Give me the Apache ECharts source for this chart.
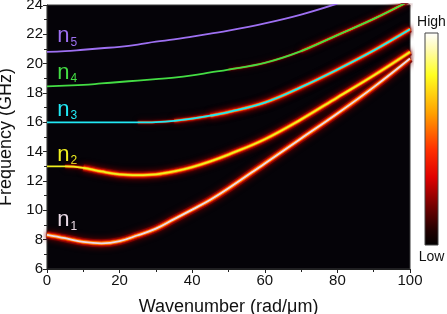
<!DOCTYPE html>
<html><head><meta charset="utf-8">
<script src="https://cdn.jsdelivr.net/npm/echarts@6/dist/echarts.min.js"></script>
<style>html,body{margin:0;padding:0;background:#fff}#c{width:447px;height:314px}</style>
</head><body><div id="c"></div>
<script>
var wavenumber = [0,5,10,15,20,25,30,35,40,45,50,60,70,80,90,100];
var n1 = [8.33,8.1,7.85,7.75,7.9,8.3,8.75,9.4,10.05,10.72,11.5,13.2,14.9,16.6,18.4,20.35];
var n2 = [13.0,13.0,12.9,12.65,12.45,12.4,12.45,12.65,12.95,13.34,13.8,14.85,16.2,17.7,19.2,20.8];
var n3 = [16.0,16.0,16.0,16.0,16.0,16.0,16.02,16.1,16.25,16.45,16.7,17.35,18.4,19.6,20.9,22.35];
var n4 = [18.45,18.5,18.55,18.65,18.75,18.85,18.95,19.05,19.2,19.4,19.6,20.05,20.85,21.95,23.05,24.3];
var n5 = [20.8,20.85,20.95,21.05,21.15,21.3,21.5,21.65,21.85,22.05,22.25,22.75,23.35,24.1];
var modeNames = ['1','2','3','4','5'];
var modeColors = ['#eadae6','#f0f020','#22e8f4','#44dd44','#9e70f2'];
var labelPos = [[2.8,8.5],[2.8,12.95],[2.8,16.05],[2.8,18.55],[2.8,21.05]];

function pts(arr, from){ var r=[]; for(var i=from||0;i<arr.length;i++) r.push([wavenumber[i],arr[i]]); return r; }
function layer(data, w, color, blur, op){
  return {type:'line', data:data, smooth:0.4, showSymbol:false, silent:true, animation:false,
    lineStyle:{width:w,color:color,opacity:op==null?1:op,shadowBlur:blur||0,shadowColor:color,cap:'butt'}};
}
var series = [];
function glow(arr, from, s, op){
  var d = pts(arr, from);
  series.push(layer(d, 8*s, '#6a0000', 6, 0.9*op));
  series.push(layer(d, 5*s, '#d81000', 3, 0.95*op));
  series.push(layer(d, 3.2*s, '#ff7800', 1, op));
}
glow(n1, 0, 1.0, 1);
glow(n2, 1, 0.6, 0.5);
glow(n2, 2, 0.9, 1);
glow(n3, 5, 0.6, 0.35);
glow(n3, 7, 0.7, 0.6);
glow(n3, 9, 0.8, 1);
glow(n4, 10, 0.4, 0.4);
glow(n4, 12, 0.45, 1);
var modes = [n1,n2,n3,n4,n5];
modes.forEach(function(m,i){ series.push(layer(pts(m,0), 1.8, modeColors[i], 0, 1)); });

var chart = echarts.init(document.getElementById('c'));
var ff = 'Liberation Sans, Arial, sans-serif';
var axisFont = {fontFamily:ff, fontSize:15, color:'#111'};
function axisCommon(){
  return {axisLine:{show:true, onZero:false, lineStyle:{color:'#222', width:1.2}},
    axisTick:{show:true, length:4, lineStyle:{color:'#222'}},
    minorTick:{show:true, splitNumber:2, length:3, lineStyle:{color:'#222'}},
    splitLine:{show:false},
    nameTextStyle:{fontFamily:ff, fontSize:18, color:'#111'},
    axisLabel:Object.assign({margin:4}, axisFont)};
}
chart.setOption({
  animation:false,
  backgroundColor:'#fff',
  grid:{left:47, right:37, top:5, bottom:45, outerBoundsMode:'none', containLabel:false,
    show:true, backgroundColor:'#050308', borderColor:'#3a3a3a', borderWidth:1},
  xAxis:Object.assign(axisCommon(), {type:'value', min:0, max:100, interval:20,
    name:'Wavenumber (rad/\u03bcm)', nameLocation:'middle', nameGap:29}),
  yAxis:Object.assign(axisCommon(), {type:'value', min:6, max:24, interval:2,
    name:'Frequency (GHz)', nameLocation:'middle', nameGap:29}),
  series: series
});

var g = [];
modeNames.forEach(function(n,i){
  var p = chart.convertToPixel({gridIndex:0}, labelPos[i]);
  g.push({type:'text', x:p[0], y:p[1], style:{
    text:'{a|n}{b|'+n+'}', fill:modeColors[i], textVerticalAlign:'bottom',
    rich:{a:{fontSize:22, fontFamily:ff, fill:modeColors[i]},
          b:{fontSize:12, fontFamily:ff, fill:modeColors[i], padding:[12,0,0,1]}}}});
});
g.push({type:'rect', shape:{x:425, y:33, width:13, height:212}, style:{
  fill:new echarts.graphic.LinearGradient(0,0,0,1,[
    {offset:0,color:'#ffffff'},{offset:0.08,color:'#fffbb0'},{offset:0.2,color:'#ffff20'},
    {offset:0.38,color:'#ffa000'},{offset:0.55,color:'#ff3000'},{offset:0.68,color:'#e00000'},
    {offset:0.82,color:'#700000'},{offset:0.93,color:'#200000'},{offset:1,color:'#000000'}]),
  stroke:'#444', lineWidth:1}});
g.push({type:'text', x:431.5, y:22, style:{text:'High', fontSize:14, fontFamily:ff, fill:'#111', textAlign:'center', textVerticalAlign:'middle'}});
g.push({type:'text', x:431.5, y:257, style:{text:'Low', fontSize:14, fontFamily:ff, fill:'#111', textAlign:'center', textVerticalAlign:'middle'}});
chart.setOption({graphic:g});
</script></body></html>
